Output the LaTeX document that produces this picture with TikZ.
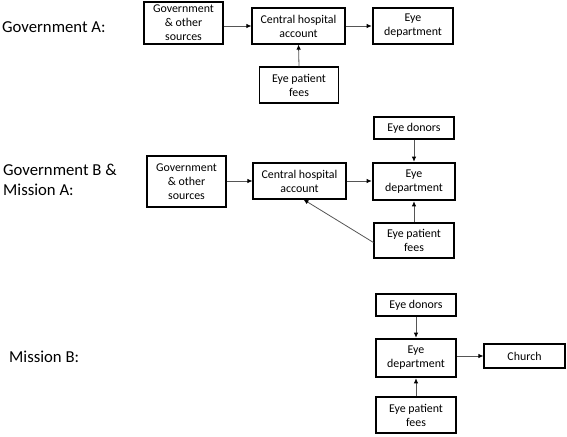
\documentclass[tikz,border=0pt]{standalone}
\usepackage{fontspec}
\setmainfont{Carlito}
\usetikzlibrary{arrows.meta,calc}
\begin{document}
\begin{tikzpicture}[x=1pt,y=-1pt,
  box/.style={draw=black,line width=1.1pt,inner sep=0pt,align=center,
    font=\fontsize{11.9}{14}\selectfont},
  thickbox/.style={box,line width=2.6pt},
  lbl/.style={anchor=west,align=left,inner sep=0pt,font=\fontsize{16.7}{20}\selectfont},
  arr/.style={draw={rgb,255:red,85;green,85;blue,85},line width=0.8pt,
    -{Latex[length=5pt,width=4.5pt,fill=black,color=black]}}]
\useasboundingbox (0,0) rectangle (567,436);
% Government A
\node[lbl] (la) at (2,27) {Government A:};
\node[box,minimum width=79pt,minimum height=42pt] (gA) at (183.5,23) {Government\\\& other\\sources};
\node[box,minimum width=93pt,minimum height=36pt] (cA) at (298.5,26) {Central hospital\\account};
\node[thickbox,minimum width=80pt,minimum height=36pt] (eA) at (413,26) {Eye\\department};
\node[box,minimum width=79pt,minimum height=36pt] (fA) at (299,85) {Eye patient\\fees};
\draw[arr] (gA.east |- cA.west) -- (cA.west);
\draw[arr] (cA.east) -- (eA.west);
\draw[arr] (fA.north) -- (cA.south);
% Government B & Mission A
\node[lbl] (lb) at (3,180) {Government B \&\\Mission A:};
\node[box,minimum width=79pt,minimum height=51pt] (gB) at (186.5,181.5) {Government\\\& other\\sources};
\node[box,minimum width=93pt,minimum height=36pt] (cB) at (299.5,181) {Central hospital\\account};
\node[box,minimum width=80pt,minimum height=22pt] (dB) at (414,128) {Eye donors};
\node[thickbox,minimum width=82pt,minimum height=37pt] (eB) at (414,181.5) {Eye\\department};
\node[box,minimum width=80pt,minimum height=35pt] (fB) at (414,240.5) {Eye patient\\fees};
\draw[arr] (gB.east |- cB.west) -- (cB.west);
\draw[arr] (cB.east) -- (cB.east -| eB.west);
\draw[arr] (dB.south) -- (eB.north);
\draw[arr] (fB.north) -- (eB.south);
\draw[arr] ($(fB.west)+(0,2)$) -- ($(cB.south)+(4,0)$);
% Mission B
\node[lbl] (lc) at (9,357) {Mission B:};
\node[box,minimum width=80pt,minimum height=22pt] (dC) at (416,305) {Eye donors};
\node[thickbox,minimum width=80pt,minimum height=38pt] (eC) at (416,358) {Eye\\department};
\node[box,minimum width=81pt,minimum height=24pt] (chC) at (524.5,356) {Church};
\node[box,minimum width=80pt,minimum height=36pt] (fC) at (416,415) {Eye patient\\fees};
\draw[arr] (dC.south) -- (eC.north);
\draw[arr] (eC.east |- chC.west) -- (chC.west);
\draw[arr] (fC.north) -- (eC.south);
\end{tikzpicture}
\end{document}
